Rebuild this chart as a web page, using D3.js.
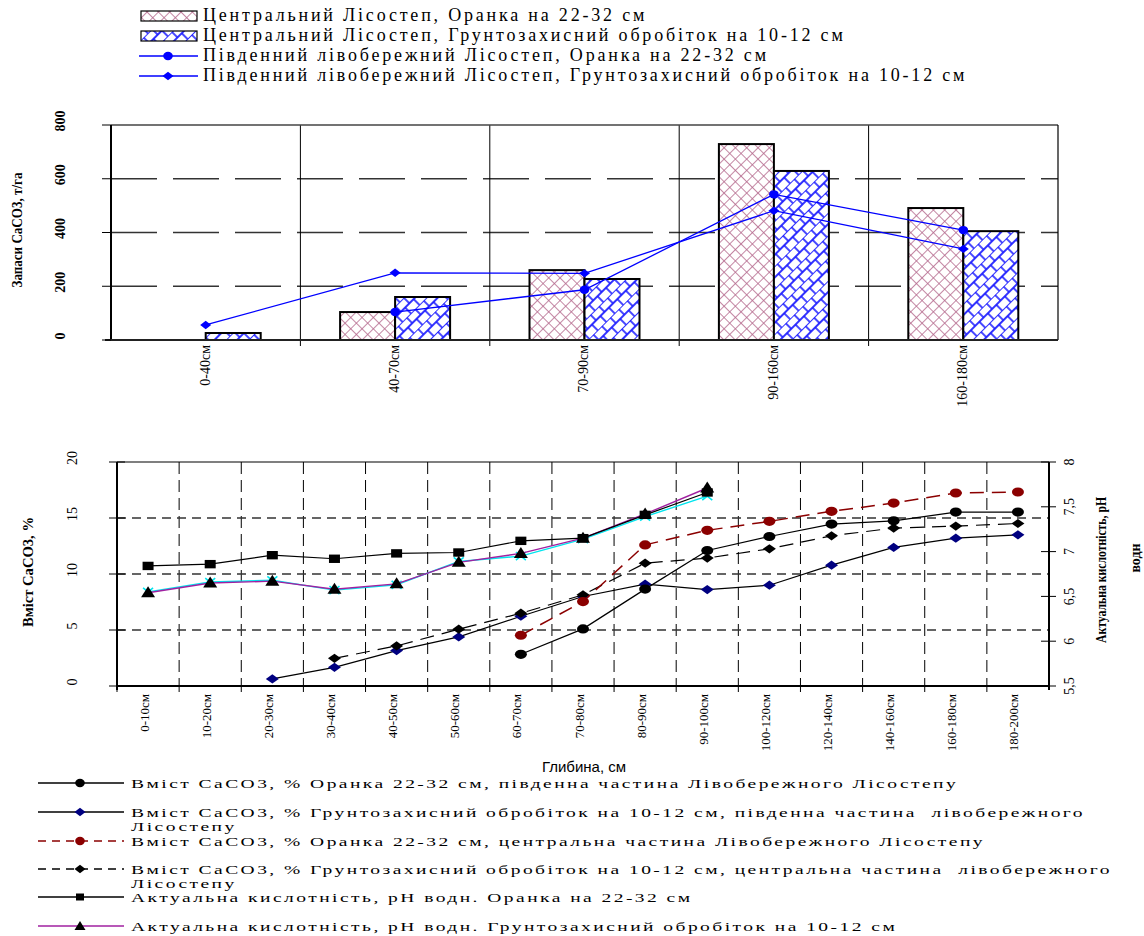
<!DOCTYPE html>
<html>
<head>
<meta charset="utf-8">
<script src="https://cdn.jsdelivr.net/npm/d3@7"></script>
<style>
  body { margin: 0; background: #fff; }
  svg { display: block; }
  text { font-family: "Liberation Serif", "Times New Roman", serif; fill: #000; }
</style>
</head>
<body>
<div class="canvas"></div>
<script>
// ---- top chart: запаси по шарах ----
const layers = ["0-40см", "40-70см", "70-90см", "90-160см", "160-180см"];
const centralPlough = [0, 104, 260, 729, 491];
const centralProtect = [26, 160, 227, 629, 405];
const southPlough = [null, 104, 187, 542, 409];
const southProtect = [56, 250, 248, 481, 339];
const stockTicks = [0, 200, 400, 600, 800];

const topLegend = [
  "Центральний Лісостеп, Оранка на 22-32 см",
  "Центральний Лісостеп, Грунтозахисний обробіток на 10-12 см",
  "Південний лівобережний Лісостеп, Оранка на 22-32 см",
  "Південний лівобережний Лісостеп, Грунтозахисний обробіток на 10-12 см"
];

// ---- bottom chart: CaCO3 і pH по глибині ----
const depths = ["0-10см", "10-20см", "20-30см", "30-40см", "40-50см", "50-60см", "60-70см",
  "70-80см", "80-90см", "90-100см", "100-120см", "120-140см", "140-160см", "160-180см", "180-200см"];
const caSouthPlough = [null, null, null, null, null, null, 2.83, 5.1, 8.65, 12.1, 13.35, 14.46, 14.75, 15.53, 15.53];
const caSouthProtect = [null, null, 0.63, 1.67, 3.16, 4.38, 6.23, 7.99, 9.09, 8.61, 9.0, 10.79, 12.37, 13.2, 13.5];
const caCentralPlough = [null, null, null, null, null, null, 4.53, 7.54, 12.6, 13.9, 14.7, 15.6, 16.33, 17.23, 17.32];
const caCentralProtect = [null, null, null, 2.47, 3.58, 5.07, 6.5, 8.14, 10.97, 11.42, 12.25, 13.41, 14.1, 14.28, 14.51];
const phPlough = [6.84, 6.86, 6.96, 6.92, 6.98, 6.99, 7.12, 7.15, 7.41, 7.66];
const phProtect = [6.54, 6.65, 6.67, 6.58, 6.64, 6.88, 6.98, 7.15, 7.42, 7.71];
const phProtectB = [6.55, 6.66, 6.68, 6.57, 6.63, 6.89, 6.95, 7.14, 7.39, 7.62];
const caTicks = [0, 5, 10, 15, 20];
const phTicks = [5.5, 6, 6.5, 7, 7.5, 8];

const bottomLegend = [
  ["Вміст СаСО3, % Оранка 22-32 см, південна частина Лівобережного Лісостепу"],
  ["Вміст СаСО3, % Грунтозахисний обробіток на 10-12 см, південна частина  лівобережного", "Лісостепу"],
  ["Вміст СаСО3, % Оранка 22-32 см, центральна частина Лівобережного Лісостепу"],
  ["Вміст СаСО3, % Грунтозахисний обробіток на 10-12 см, центральна частина  лівобережного", "Лісостепу"],
  ["Актуальна кислотність, pH водн. Оранка на 22-32 см"],
  ["Актуальна кислотність, pH водн. Грунтозахисний обробіток на 10-12 см"]
];

const svg = d3.select(".canvas").append("svg")
  .attr("width", 1144)
  .attr("height", 936);

// patterns
const defs = svg.append("defs");
const pink = defs.append("pattern")
  .attr("id", "pinkHatch")
  .attr("patternUnits", "userSpaceOnUse")
  .attr("width", 8).attr("height", 8)
  .attr("patternTransform", "rotate(45)");
pink.append("rect").attr("width", 8).attr("height", 8).attr("fill", "#fff");
pink.append("line").attr("x1", 0).attr("y1", 0).attr("x2", 8).attr("y2", 0)
  .attr("stroke", "#b56a8e").attr("stroke-width", 1.6);
pink.append("line").attr("x1", 0).attr("y1", 0).attr("x2", 0).attr("y2", 8)
  .attr("stroke", "#b56a8e").attr("stroke-width", 1.6);

const blue = defs.append("pattern")
  .attr("id", "blueBrick")
  .attr("patternUnits", "userSpaceOnUse")
  .attr("width", 12).attr("height", 16)
  .attr("patternTransform", "rotate(-45)");
blue.append("rect").attr("width", 12).attr("height", 16).attr("fill", "#fff");
blue.append("line").attr("x1", 0).attr("y1", 0).attr("x2", 12).attr("y2", 0)
  .attr("stroke", "#1a1aff").attr("stroke-width", 1.8);
blue.append("line").attr("x1", 0).attr("y1", 8).attr("x2", 12).attr("y2", 8)
  .attr("stroke", "#1a1aff").attr("stroke-width", 1.8);
blue.append("line").attr("x1", 3).attr("y1", 0).attr("x2", 3).attr("y2", 8)
  .attr("stroke", "#1a1aff").attr("stroke-width", 1.6);
blue.append("line").attr("x1", 9).attr("y1", 8).attr("x2", 9).attr("y2", 16)
  .attr("stroke", "#1a1aff").attr("stroke-width", 1.6);

// marker shapes
const shapes = {
  circle: "M-6,0A6,4.6 0 1,0 6,0A6,4.6 0 1,0 -6,0Z",
  smallCircle: "M-4.8,0A4.8,4.2 0 1,0 4.8,0A4.8,4.2 0 1,0 -4.8,0Z",
  diamond: "M-6.5,0L0,-4.6L6.5,0L0,4.6Z",
  smallDiamond: "M-5.5,0L0,-4.2L5.5,0L0,4.2Z",
  square: "M-5.5,-4.2H5.5V4.2H-5.5Z",
  triangle: "M0,-6.5L7,4.5H-7Z",
  cross: "M-5,-4L5,4M-5,4L5,-4"
};

// ================= TOP CHART =================
const tx = d3.scaleBand().domain(layers).range([111, 1058]);
const tInner = d3.scaleBand().domain([0, 1]).range([-55, 55]);
const ty = d3.scaleLinear().domain([0, 800]).range([340, 125]);
const tc = d => tx(d) + tx.bandwidth() / 2;

const topG = svg.append("g").attr("class", "top");

topG.selectAll(".hgrid").data(stockTicks.filter(v => v > 0 && v < 800)).enter()
  .append("line").attr("class", "hgrid")
  .attr("x1", 111).attr("x2", 1058)
  .attr("y1", d => ty(d)).attr("y2", d => ty(d))
  .attr("stroke", "#333").attr("stroke-width", 1.4)
  .attr("stroke-dasharray", "46,16");

topG.selectAll(".vgrid").data(layers.slice(1)).enter()
  .append("line").attr("class", "vgrid")
  .attr("x1", d => tx(d)).attr("x2", d => tx(d))
  .attr("y1", 125).attr("y2", 346)
  .attr("stroke", "#000").attr("stroke-width", 1);

// frame
topG.append("line").attr("x1", 111).attr("x2", 1058).attr("y1", 125).attr("y2", 125)
  .attr("stroke", "#444").attr("stroke-width", 1.5);
topG.append("line").attr("x1", 1058).attr("x2", 1058).attr("y1", 125).attr("y2", 340)
  .attr("stroke", "#000").attr("stroke-width", 1.2);

// bars
const barSeries = [
  { values: centralPlough, fill: "url(#pinkHatch)" },
  { values: centralProtect, fill: "url(#blueBrick)" }
];
barSeries.forEach((s, si) => {
  topG.selectAll(".bar" + si).data(layers).enter()
    .filter((d, i) => s.values[i] > 0)
    .append("rect").attr("class", "bar" + si)
    .attr("x", d => tc(d) + tInner(si))
    .attr("width", tInner.bandwidth())
    .attr("y", d => ty(s.values[layers.indexOf(d)]))
    .attr("height", d => ty(0) - ty(s.values[layers.indexOf(d)]))
    .attr("fill", s.fill)
    .attr("stroke", "#000").attr("stroke-width", 2);
});

// axes
topG.append("line").attr("x1", 111).attr("x2", 111).attr("y1", 125).attr("y2", 341)
  .attr("stroke", "#000").attr("stroke-width", 2);
topG.append("line").attr("x1", 105).attr("x2", 1058).attr("y1", 340).attr("y2", 340)
  .attr("stroke", "#222").attr("stroke-width", 2);
topG.selectAll(".ytick").data(stockTicks).enter()
  .append("line").attr("class", "ytick")
  .attr("x1", 102).attr("x2", 111)
  .attr("y1", d => ty(d)).attr("y2", d => ty(d))
  .attr("stroke", "#000").attr("stroke-width", 1);
topG.selectAll(".ylab").data(stockTicks).enter()
  .append("text").attr("class", "ylab")
  .attr("transform", d => `translate(65,${ty(d) - 4}) rotate(-90)`)
  .attr("text-anchor", "middle")
  .attr("font-size", 14).attr("font-weight", "bold")
  .text(d => d);
topG.selectAll(".xlab").data(layers).enter()
  .append("text").attr("class", "xlab")
  .attr("transform", d => `translate(${tc(d) - 1},345) rotate(-90)`)
  .attr("text-anchor", "end")
  .attr("dy", "0.35em")
  .attr("font-size", 14)
  .text(d => d);
topG.append("text")
  .attr("transform", "translate(22,230) rotate(-90)")
  .attr("text-anchor", "middle")
  .attr("font-size", 14).attr("font-weight", "bold")
  .attr("textLength", 115).attr("lengthAdjust", "spacingAndGlyphs")
  .text("Запаси СаСО3, т/га");

// lines
const lineSeries = [
  { values: southPlough, shape: shapes.smallCircle },
  { values: southProtect, shape: shapes.smallDiamond }
];
lineSeries.forEach(s => {
  const pts = layers.map((d, i) => [tc(d), s.values[i]]).filter(p => p[1] != null);
  topG.append("path")
    .attr("d", d3.line().x(p => p[0]).y(p => ty(p[1]))(pts))
    .attr("fill", "none").attr("stroke", "#0000ff").attr("stroke-width", 1.3);
  topG.selectAll(null).data(pts).enter().append("path")
    .attr("d", s.shape)
    .attr("transform", p => `translate(${p[0]},${ty(p[1])})`)
    .attr("fill", "#0000ff");
});

// top legend
const tl = svg.append("g").attr("class", "topLegend");
topLegend.forEach((label, i) => {
  const y = 16 + i * 20;
  if (i < 2) {
    tl.append("rect").attr("x", 141).attr("y", y - 5).attr("width", 56).attr("height", 10)
      .attr("fill", i === 0 ? "url(#pinkHatch)" : "url(#blueBrick)")
      .attr("stroke", "#000").attr("stroke-width", 1.2);
  } else {
    tl.append("line").attr("x1", 139).attr("x2", 198).attr("y1", y).attr("y2", y)
      .attr("stroke", "#0000ff").attr("stroke-width", 1.3);
    tl.append("path").attr("d", i === 2 ? shapes.smallCircle : shapes.smallDiamond)
      .attr("transform", `translate(168,${y})`).attr("fill", "#0000ff");
  }
  tl.append("text").attr("x", 203).attr("y", y + 5)
    .attr("font-size", 18).attr("letter-spacing", 2.8)
    .text(label);
});

// ================= BOTTOM CHART =================
const bx = d3.scaleBand().domain(depths).range([117, 1049]);
const bc = d => bx(d) + bx.bandwidth() / 2;
const yL = d3.scaleLinear().domain([0, 20]).range([686, 462]);
const yR = d3.scaleLinear().domain([5.5, 8]).range([686, 462]);

const bot = svg.append("g").attr("class", "bottom");

bot.selectAll(".vg").data(depths.slice(1)).enter()
  .append("line").attr("class", "vg")
  .attr("x1", d => bx(d)).attr("x2", d => bx(d))
  .attr("y1", 462).attr("y2", 686)
  .attr("stroke", "#000").attr("stroke-width", 1)
  .attr("stroke-dasharray", "12,6");
bot.selectAll(".hg").data(caTicks.filter(v => v > 0 && v < 20)).enter()
  .append("line").attr("class", "hg")
  .attr("x1", 117).attr("x2", 1049)
  .attr("y1", d => yL(d)).attr("y2", d => yL(d))
  .attr("stroke", "#333").attr("stroke-width", 1.3)
  .attr("stroke-dasharray", "9,6");

// frame and axes
bot.append("line").attr("x1", 117).attr("x2", 1049).attr("y1", 462).attr("y2", 462)
  .attr("stroke", "#000").attr("stroke-width", 1.2);
bot.append("line").attr("x1", 117).attr("x2", 1049).attr("y1", 686).attr("y2", 686)
  .attr("stroke", "#000").attr("stroke-width", 2);
bot.append("line").attr("x1", 117).attr("x2", 117).attr("y1", 462).attr("y2", 690)
  .attr("stroke", "#000").attr("stroke-width", 2);
bot.append("line").attr("x1", 1049).attr("x2", 1049).attr("y1", 462).attr("y2", 690)
  .attr("stroke", "#000").attr("stroke-width", 2);
bot.selectAll(".xt").data(depths).enter()
  .append("line").attr("class", "xt")
  .attr("x1", d => bx(d)).attr("x2", d => bx(d))
  .attr("y1", 686).attr("y2", 692)
  .attr("stroke", "#000");
bot.selectAll(".ylt").data(caTicks).enter()
  .append("line").attr("class", "ylt")
  .attr("x1", 109).attr("x2", 125)
  .attr("y1", d => yL(d)).attr("y2", d => yL(d))
  .attr("stroke", "#000");
bot.selectAll(".yrt").data(phTicks).enter()
  .append("line").attr("class", "yrt")
  .attr("x1", 1041).attr("x2", 1056)
  .attr("y1", d => yR(d)).attr("y2", d => yR(d))
  .attr("stroke", "#000");

bot.selectAll(".yll").data(caTicks).enter()
  .append("text").attr("class", "yll")
  .attr("transform", d => `translate(77,${yL(d) - 4}) rotate(-90)`)
  .attr("text-anchor", "middle").attr("font-size", 14)
  .text(d => d);
bot.selectAll(".yrl").data(phTicks).enter()
  .append("text").attr("class", "yrl")
  .attr("transform", d => `translate(1074,${yR(d)}) rotate(-90)`)
  .attr("text-anchor", "middle").attr("font-size", 14)
  .text(d => String(d).replace(".", ","));
bot.selectAll(".xl").data(depths).enter()
  .append("text").attr("class", "xl")
  .attr("transform", d => `translate(${bc(d) - 4},694) rotate(-90)`)
  .attr("text-anchor", "end").attr("dy", "0.35em")
  .attr("font-size", 13)
  .text(d => d);

bot.append("text")
  .attr("transform", "translate(33,572) rotate(-90)")
  .attr("text-anchor", "middle").attr("font-size", 15).attr("font-weight", "bold")
  .attr("textLength", 110).attr("lengthAdjust", "spacingAndGlyphs")
  .text("Вміст СаСО3, %");
bot.append("text")
  .attr("transform", "translate(1106,570) rotate(-90)")
  .attr("text-anchor", "middle").attr("font-size", 15).attr("font-weight", "bold")
  .attr("textLength", 146).attr("lengthAdjust", "spacingAndGlyphs")
  .text("Актуальна кислотність, pH");
bot.append("text")
  .attr("transform", "translate(1140,558) rotate(-90)")
  .attr("text-anchor", "middle").attr("font-size", 14).attr("font-weight", "bold")
  .text("водн");

// series
const bottomSeries = [
  { values: phProtectB, scale: yR, color: "#00e5ee", dash: null, shape: shapes.cross, marker: "stroke", width: 1.4 },
  { values: phProtect, scale: yR, color: "#a020a0", dash: null, shape: shapes.triangle, mcolor: "#000", width: 1.4 },
  { values: phPlough, scale: yR, color: "#000", dash: null, shape: shapes.square, mcolor: "#000", width: 1.2 },
  { values: caSouthProtect, scale: yL, color: "#000", dash: null, shape: shapes.diamond, mcolor: "#000080", width: 1.2 },
  { values: caCentralProtect, scale: yL, color: "#000", dash: "14,8", shape: shapes.diamond, mcolor: "#000", width: 1.2 },
  { values: caCentralPlough, scale: yL, color: "#8b0000", dash: "14,8", shape: shapes.circle, mcolor: "#8b0000", width: 1.5 },
  { values: caSouthPlough, scale: yL, color: "#000", dash: null, shape: shapes.circle, mcolor: "#000", width: 1.2 }
];
bottomSeries.forEach(s => {
  const pts = s.values.map((v, i) => [bc(depths[i]), v]).filter(p => p[1] != null);
  bot.append("path")
    .attr("d", d3.line().x(p => p[0]).y(p => s.scale(p[1]))(pts))
    .attr("fill", "none").attr("stroke", s.color)
    .attr("stroke-width", s.width)
    .attr("stroke-dasharray", s.dash);
  const m = bot.selectAll(null).data(pts).enter().append("path")
    .attr("d", s.shape)
    .attr("transform", p => `translate(${p[0]},${s.scale(p[1])})`);
  if (s.marker === "stroke") m.attr("fill", "none").attr("stroke", s.color).attr("stroke-width", 1.6);
  else m.attr("fill", s.mcolor);
});

// bottom legend
svg.append("text").attr("x", 584).attr("y", 772)
  .attr("text-anchor", "middle")
  .style("font-family", "'Liberation Sans', Arial, sans-serif")
  .attr("font-size", 15)
  .text("Глибина, см");

const legendStyles = [
  { color: "#000", dash: null, shape: shapes.smallCircle, mcolor: "#000" },
  { color: "#000", dash: null, shape: shapes.smallDiamond, mcolor: "#000080" },
  { color: "#8b0000", dash: "8,6", shape: shapes.smallCircle, mcolor: "#8b0000" },
  { color: "#000", dash: "8,6", shape: shapes.smallDiamond, mcolor: "#000" },
  { color: "#000", dash: null, shape: "M-4,-3.5H4V3.5H-4Z", mcolor: "#000" },
  { color: "#a020a0", dash: null, shape: "M0,-5L5.5,4H-5.5Z", mcolor: "#000" }
];
const rowY = [783, 812, 841, 869, 897, 926];
const bl = svg.append("g").attr("class", "bottomLegend");
bottomLegend.forEach((lines, i) => {
  const st = legendStyles[i];
  const y = rowY[i];
  bl.append("line").attr("x1", 38).attr("x2", 124).attr("y1", y).attr("y2", y)
    .attr("stroke", st.color).attr("stroke-width", 1.3)
    .attr("stroke-dasharray", st.dash);
  bl.append("path").attr("d", st.shape)
    .attr("transform", `translate(80,${y})`).attr("fill", st.mcolor);
  lines.forEach((ln, j) => {
    bl.append("text")
      .attr("transform", `translate(131,${y + 5 + j * 14}) scale(1.3,0.86)`)
      .attr("font-size", 15).attr("letter-spacing", 1.9)
      .style("white-space", "pre")
      .text(ln);
  });
});
</script>
</body>
</html>
